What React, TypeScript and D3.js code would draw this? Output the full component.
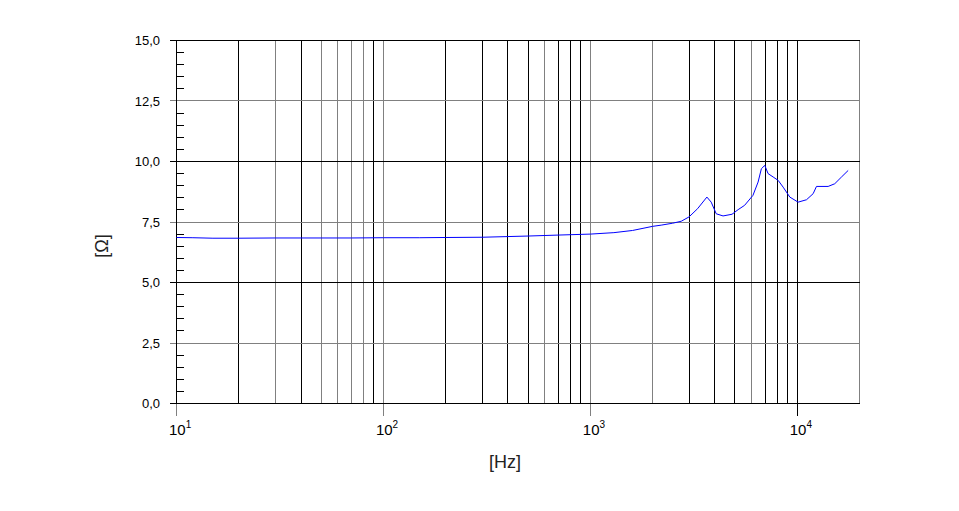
import * as d3 from "d3";
import React from "react";

// impedance curve
const freqHz = [10, 12, 15, 20, 30, 50, 70, 100, 150, 200, 300, 500, 700, 1000, 1300, 1600, 2000, 2200, 2500, 2750, 3000, 3300, 3660, 3840, 4060, 4380, 4840, 5180, 5570, 6110, 6470, 6710, 6970, 7230, 7650, 8090, 8550, 9210, 10100, 11090, 11940, 12390, 14110, 15180, 16370, 17630];
const impedance = [6.86, 6.85, 6.83, 6.83, 6.84, 6.84, 6.84, 6.85, 6.85, 6.86, 6.87, 6.92, 6.96, 7.0, 7.06, 7.15, 7.32, 7.37, 7.45, 7.53, 7.71, 8.05, 8.53, 8.32, 7.84, 7.75, 7.82, 8.01, 8.19, 8.6, 9.15, 9.7, 9.84, 9.5, 9.36, 9.22, 8.94, 8.53, 8.32, 8.42, 8.67, 8.97, 8.97, 9.08, 9.36, 9.63];

const yTicks = [0, 2.5, 5, 7.5, 10, 12.5, 15];
const decades = [1, 2, 3, 4];
// grid lines that come out grey in the reference
const greyFreqs = [30, 50, 60, 70, 80, 100, 600, 1000, 2000, 6000, 20000];

const width = 959;
const height = 511;
const left = 176.5;
const right = 859.5;
const top = 40.5;
const bottom = 403.5;

const App: React.FC = () => {
  const x = d3.scaleLog().domain([10, 20000]).range([left, right]);
  const y = d3.scaleLinear().domain([0, 15]).range([bottom, top]);

  // every 1..9 x 10^n line between 10 Hz and 20 kHz
  const gridFreqs: number[] = [];
  for (let e = 1; e <= 4; e++) {
    for (let m = 1; m <= 9; m++) {
      const f = m * Math.pow(10, e);
      if (f <= 20000) gridFreqs.push(f);
    }
  }
  gridFreqs.push(20000);

  const minorY = d3.range(0.5, 15, 0.5).filter((v) => Math.abs(v % 2.5) > 1e-6);

  const line = d3
    .line<number>()
    .x((_, i) => x(freqHz[i]))
    .y((d) => y(d))
    .curve(d3.curveLinear);

  const px = (v: number) => Math.round(v - 0.5) + 0.5;
  const font = "'Liberation Sans', Arial, sans-serif";

  return (
    <svg
      width={width}
      height={height}
      style={{ position: "absolute", left: 0, top: 0, background: "#fff" }}
      fontFamily={font}
    >
      {/* vertical grid */}
      <g shapeRendering="crispEdges">
        {gridFreqs.map((f) => (
          <line
            key={f}
            x1={px(x(f))}
            x2={px(x(f))}
            y1={top}
            y2={bottom}
            stroke={greyFreqs.includes(f) ? "#808080" : "#000"}
            strokeWidth={1}
          />
        ))}
        {/* horizontal grid + major ticks */}
        {yTicks.map((v) => (
          <line
            key={v}
            x1={left - 7}
            x2={right}
            y1={px(y(v))}
            y2={px(y(v))}
            stroke={v % 5 === 0 ? "#000" : "#808080"}
          />
        ))}
        {minorY.map((v) => (
          <line key={v} x1={left} x2={left + 7} y1={px(y(v))} y2={px(y(v))} stroke="#000" />
        ))}
        <line x1={left} x2={left} y1={top} y2={bottom} stroke="#000" />
        {decades.map((e) => (
          <line
            key={e}
            x1={px(x(Math.pow(10, e)))}
            x2={px(x(Math.pow(10, e)))}
            y1={bottom}
            y2={bottom + 12}
            stroke={e === 4 ? "#000" : "#808080"}
          />
        ))}
      </g>

      {/* y tick labels */}
      {yTicks.map((v) => (
        <text
          key={v}
          x={160}
          y={y(v)}
          dy="0.35em"
          textAnchor="end"
          fontSize={13}
          fill="#000"
        >
          {v.toFixed(1).replace(".", ",")}
        </text>
      ))}

      {/* x tick labels */}
      {decades.map((e) => (
        <text key={e} x={x(Math.pow(10, e)) - 7.5} y={435} fontSize={15} fill="#000">
          10
          <tspan dy={-7} fontSize={10}>
            {e}
          </tspan>
        </text>
      ))}

      {/* axis titles */}
      <text x={505} y={468} textAnchor="middle" fontSize={18} fill="#222">
        [Hz]
      </text>
      <text
        transform="translate(108,246) rotate(-90)"
        textAnchor="middle"
        fontSize={18}
        fill="#222"
      >
        [Ω]
      </text>

      {/* curve */}
      <path d={line(impedance) ?? ""} fill="none" stroke="#0000ff" strokeWidth={1} />
    </svg>
  );
};

export default App;
